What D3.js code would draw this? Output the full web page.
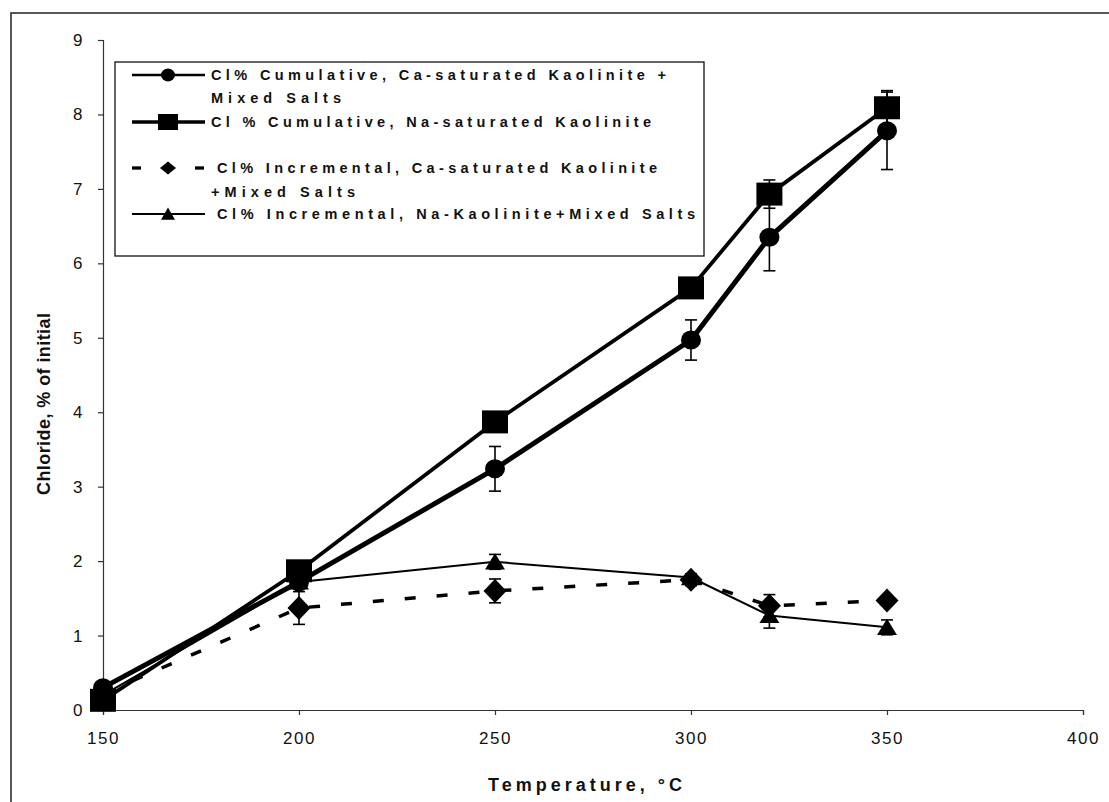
<!DOCTYPE html>
<html>
<head>
<meta charset="utf-8">
<script src="https://cdn.jsdelivr.net/npm/d3@7"></script>
<style>
  html, body { margin: 0; padding: 0; background: #fff; }
  svg { display: block; }
  text { font-family: "Liberation Sans", Arial, sans-serif; fill: #111; }
</style>
</head>
<body>
<svg id="chart" width="1109" height="802"></svg>
<script>
// ---- data ----
const temperatures = [150, 200, 250, 300, 320, 350];
const caCumulative    = [0.30, 1.72, 3.24, 4.97, 6.35, 7.78];
const caCumulativeErr = [0.00, 0.08, 0.30, 0.27, 0.45, 0.52];
const naCumulative    = [0.13, 1.87, 3.87, 5.67, 6.93, 8.09];
const naCumulativeErr = [0.00, 0.05, 0.05, 0.05, 0.19, 0.23];
const caIncremental    = [0.22, 1.37, 1.60, 1.75, 1.40, 1.47];
const caIncrementalErr = [0.00, 0.22, 0.16, 0.08, 0.15, 0.05];
const naIncremental    = [0.20, 1.72, 1.99, 1.78, 1.27, 1.11];
const naIncrementalErr = [0.00, 0.05, 0.10, 0.05, 0.17, 0.10];
const xTicks = [150, 200, 250, 300, 350, 400];
const yTicks = [0, 1, 2, 3, 4, 5, 6, 7, 8, 9];
const seriesNames = [
  ["Cl% Cumulative, Ca-saturated Kaolinite +", "Mixed Salts"],
  ["Cl % Cumulative, Na-saturated Kaolinite"],
  ["Cl% Incremental, Ca-saturated Kaolinite", "+Mixed Salts"],
  ["Cl% Incremental, Na-Kaolinite+Mixed Salts"]
];
const xTitle = "Temperature, \u00B0C";
const yTitle = "Chloride, % of initial";

// ---- layout ----
const svg = d3.select("#chart");
const x = d3.scaleLinear().domain([150, 400]).range([103, 1083]);
const y = d3.scaleLinear().domain([0, 9]).range([710, 40]);

// outer frame (left + top)
svg.append("path").attr("d", "M11,802V13H1109")
  .attr("fill", "none").attr("stroke", "#222").attr("stroke-width", 1.5);

// axes
const xAxis = svg.append("g").attr("transform", "translate(0,710)")
  .call(d3.axisBottom(x).tickValues(xTicks).tickSize(5).tickPadding(17).tickFormat(d3.format("d")));
const yAxis = svg.append("g").attr("transform", "translate(103,0)")
  .call(d3.axisLeft(y).tickValues(yTicks).tickSize(5).tickPadding(14).tickFormat(d3.format("d")));
[xAxis, yAxis].forEach(g => {
  g.selectAll("path.domain").attr("stroke", "#333").attr("stroke-width", 1.2);
  g.selectAll(".tick line").attr("stroke", "#333").attr("stroke-width", 1.2);
  g.selectAll(".tick text").attr("font-size", 17).attr("letter-spacing", "1.5px")
    .attr("font-family", "Liberation Sans, Arial, sans-serif").attr("fill", "#111");
});

// axis titles
svg.append("text").attr("x", 488).attr("y", 791)
  .attr("font-size", 18).attr("font-weight", "bold")
  .attr("textLength", 194).attr("lengthAdjust", "spacing").text(xTitle);
svg.append("text").attr("transform", "translate(50,495) rotate(-90)")
  .attr("font-size", 18).attr("font-weight", "bold")
  .attr("textLength", 182).attr("lengthAdjust", "spacing").text(yTitle);

// series
const series = [
  { vals: caCumulative,  err: caCumulativeErr,  width: 5,   dash: null,    marker: "circle" },
  { vals: naCumulative,  err: naCumulativeErr,  width: 3.8, dash: null,    marker: "square" },
  { vals: caIncremental, err: caIncrementalErr, width: 3.5, dash: "11,21", marker: "diamond" },
  { vals: naIncremental, err: naIncrementalErr, width: 2,   dash: null,    marker: "triangle" }
];

function markerPath(type, w, h) {
  if (type === "circle") return `M${-w},0A${w},${h} 0 1,0 ${w},0A${w},${h} 0 1,0 ${-w},0Z`;
  if (type === "square") return `M${-w},${-h}H${w}V${h}H${-w}Z`;
  if (type === "diamond") return `M0,${-h}L${w},0L0,${h}L${-w},0Z`;
  if (type === "triangle") return `M0,${-h}L${w},${h * 0.9}L${-w},${h * 0.9}Z`;
}
const markerSize = { circle: [10, 9.5], square: [13, 11.5], diamond: [11.5, 12], triangle: [10, 8.5] };

const line = d3.line().x(d => x(d[0])).y(d => y(d[1]));

series.forEach(sr => {
  const pts = temperatures.map((t, i) => [t, sr.vals[i]]);
  svg.append("path").datum(pts).attr("d", line)
    .attr("fill", "none").attr("stroke", "#000").attr("stroke-width", sr.width)
    .attr("stroke-linejoin", "round")
    .attr("stroke-dasharray", sr.dash);
});

series.forEach(sr => {
  const g = svg.append("g");
  temperatures.forEach((t, i) => {
    const e = sr.err[i];
    if (e > 0) {
      const cx = x(t), y1 = y(sr.vals[i] + e), y2 = y(sr.vals[i] - e);
      g.append("line").attr("x1", cx).attr("x2", cx).attr("y1", y1).attr("y2", y2)
        .attr("stroke", "#000").attr("stroke-width", 1.6);
      [y1, y2].forEach(yy => g.append("line").attr("x1", cx - 6).attr("x2", cx + 6)
        .attr("y1", yy).attr("y2", yy).attr("stroke", "#000").attr("stroke-width", 1.6));
    }
    const ms = markerSize[sr.marker];
    g.append("path").attr("d", markerPath(sr.marker, ms[0], ms[1]))
      .attr("transform", `translate(${x(t)},${y(sr.vals[i])})`).attr("fill", "#000");
  });
});

// legend
const lg = svg.append("g");
lg.append("rect").attr("x", 115).attr("y", 62).attr("width", 589).attr("height", 194)
  .attr("fill", "#fff").attr("stroke", "#111").attr("stroke-width", 1.3);
const legendRows = [75, 122, 168, 214];
const secondRows = [98, null, 192, null];
const textStart = [211, 211, 217, 217];
const textLens = [[455, 130], [440], [440, 144], [478]];
const legendLineW = [2.7, 3.3, 3.3, 2];
const legendMarkerSize = { circle: [7, 6.5], square: [10, 8], diamond: [8, 6.5], triangle: [7, 6.5] };
series.forEach((sr, i) => {
  const cy = legendRows[i];
  if (sr.dash) {
    lg.append("line").attr("x1", 132).attr("x2", 141).attr("y1", cy).attr("y2", cy)
      .attr("stroke", "#000").attr("stroke-width", legendLineW[i]);
    lg.append("line").attr("x1", 195).attr("x2", 204).attr("y1", cy).attr("y2", cy)
      .attr("stroke", "#000").attr("stroke-width", legendLineW[i]);
  } else {
    lg.append("line").attr("x1", 132).attr("x2", 205).attr("y1", cy).attr("y2", cy)
      .attr("stroke", "#000").attr("stroke-width", legendLineW[i]);
  }
  const ms = legendMarkerSize[sr.marker];
  lg.append("path").attr("d", markerPath(sr.marker, ms[0], ms[1]))
    .attr("transform", `translate(168,${cy})`).attr("fill", "#000");
  seriesNames[i].forEach((txt, k) => {
    const ty = (k === 0 ? cy : secondRows[i]) + 5;
    lg.append("text").attr("x", k === 0 ? textStart[i] : 211).attr("y", ty)
      .attr("font-size", 14.5).attr("font-weight", "bold")
      .attr("textLength", textLens[i][k]).attr("lengthAdjust", "spacing")
      .text(txt);
  });
});
</script>
</body>
</html>
